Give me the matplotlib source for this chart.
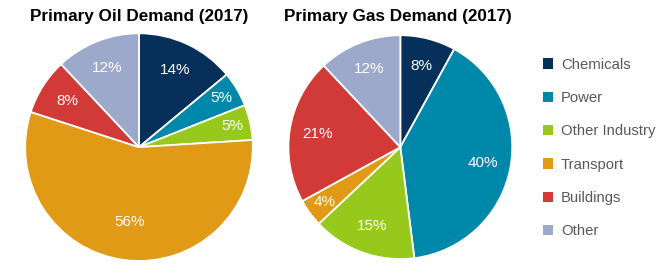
import matplotlib
matplotlib.use("Agg")
import matplotlib.pyplot as plt
from matplotlib.patches import Patch

plt.rcParams['font.family'] = ['Liberation Sans', 'DejaVu Sans']

categories = ["Chemicals", "Power", "Other Industry", "Transport", "Buildings", "Other"]
oil_values = [14, 5, 5, 56, 8, 12]
gas_values = [8, 40, 15, 4, 21, 12]
colors = ["#06305a", "#0088ab", "#97c91c", "#e09a16", "#d13a36", "#9da9ca"]
titles = ["Primary Oil Demand (2017)", "Primary Gas Demand (2017)"]

fig = plt.figure(figsize=(6.65, 2.68), dpi=100)

def draw(ax, values):
    wedges, texts, autotexts = ax.pie(
        values, colors=colors, startangle=90, counterclock=False,
        autopct=lambda p: f"{p:.0f}%", pctdistance=0.75,
        wedgeprops=dict(edgecolor="white", linewidth=1.3),
        textprops=dict(color="white", fontsize=11))
    for v, t in zip(values, autotexts):
        if v < 6:
            x, y = t.get_position()
            t.set_position((x * 0.84 / 0.75, y * 0.84 / 0.75))
        elif v > 50:
            x, y = t.get_position()
            t.set_position((x * 0.66 / 0.75, y * 0.66 / 0.75))
    ax.set_xlim(-1.01, 1.01)
    ax.set_ylim(-1.01, 1.01)
    ax.set_aspect("equal")
    return wedges

ax1 = fig.add_axes([0.209 - 0.173, 0.451 - 0.429, 0.346, 0.858])
draw(ax1, oil_values)
ax2 = fig.add_axes([0.602 - 0.170, 0.451 - 0.422, 0.340, 0.844])
draw(ax2, gas_values)

fig.text(139.5 / 665, 1 - 16 / 268, titles[0], ha="center", va="center",
         fontsize=12.3, fontweight="bold", color="black")
fig.text(398 / 665, 1 - 16 / 268, titles[1], ha="center", va="center",
         fontsize=12.3, fontweight="bold", color="black")

handles = [Patch(facecolor=c, edgecolor="none") for c in colors]
leg = fig.legend(handles, categories, loc="center left",
                 bbox_to_anchor=(537 / 665, 1 - 148 / 268), frameon=False,
                 fontsize=10.7, handlelength=0.7, handleheight=0.7,
                 handletextpad=0.5, labelspacing=1.3, borderaxespad=0)
for t in leg.get_texts():
    t.set_color("#595959")

fig.savefig("out.png", dpi=100)
